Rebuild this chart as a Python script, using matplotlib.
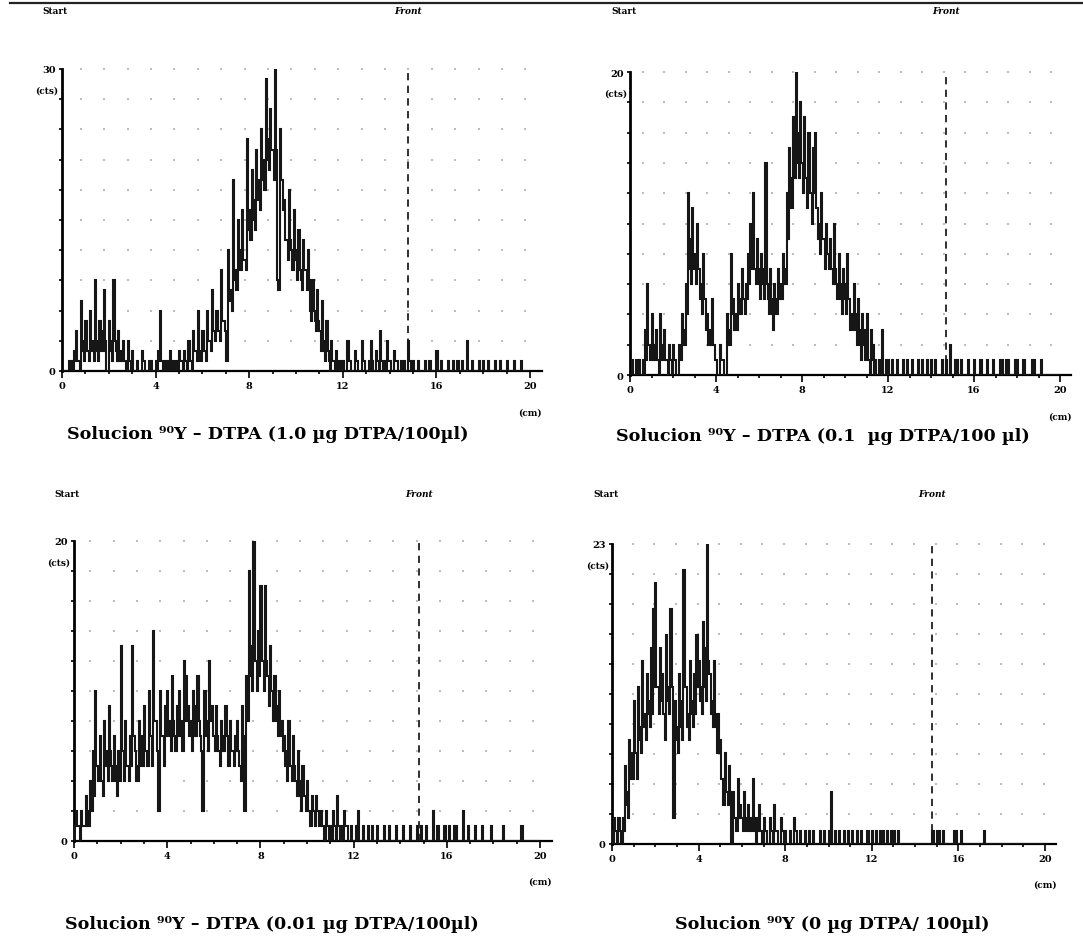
import numpy as np
import matplotlib
matplotlib.use("Agg")
import matplotlib.pyplot as plt

# ---------------- data ----------------
# Each 0.1 cm scanner channel is read as two half-channels: the upper
# value of the fast fluctuation (peaks_*) followed by the lower one (lows_*).
HALF_CHANNEL_CM = 0.05

x_major_ticks = [0, 4, 8, 12, 16, 20]
x_tick_labels = ["0", "4", "8", "12", "16", "20"]
front_cm = [14.8, 14.7, 14.8, 14.8]
y_max = [30, 20, 20, 23]
titles = [
    "Solucion \u2079\u2070Y \u2013 DTPA (1.0 \u00b5g DTPA/100\u00b5l)",
    "Solucion \u2079\u2070Y \u2013 DTPA (0.1  \u00b5g DTPA/100 \u00b5l)",
    "Solucion \u2079\u2070Y \u2013 DTPA (0.01 \u00b5g DTPA/100\u00b5l)",
    "Solucion \u2079\u2070Y (0 \u00b5g DTPA/ 100\u00b5l)",
]

peaks_1 = [
    0, 0, 0, 1, 1, 2, 4, 1, 7, 3,
    5, 2, 6, 3, 9, 2, 5, 4, 8, 0,
    5, 3, 9, 2, 4, 2, 3, 1, 3, 1,
    2, 0, 1, 0, 2, 1, 0, 1, 1, 0,
    1, 2, 6, 0, 1, 1, 2, 0, 1, 1,
    2, 1, 2, 1, 3, 1, 4, 2, 6, 1,
    4, 2, 6, 3, 8, 4, 6, 4, 10, 5,
    1, 12, 8, 19, 10, 15, 12, 16, 11, 23,
    16, 20, 17, 22, 19, 24, 21, 29, 23, 26,
    22, 30, 9, 24, 19, 17, 13, 18, 12, 16,
    11, 14, 9, 13, 10, 12, 6, 9, 5, 8,
    4, 7, 2, 5, 1, 3, 1, 2, 0, 1,
    1, 0, 3, 1, 0, 2, 1, 0, 3, 1,
    0, 1, 3, 0, 2, 1, 4, 0, 1, 3,
    1, 0, 2, 1, 0, 1, 1, 0, 3, 0,
    1, 0, 1, 0, 0, 1, 0, 1, 0, 0,
    2, 0, 1, 0, 0, 1, 0, 1, 0, 1,
    0, 1, 0, 3, 0, 1, 0, 0, 1, 0,
    1, 0, 1, 0, 0, 1, 0, 1, 0, 0,
    1, 0, 0, 1, 0, 0, 1, 0, 0, 0,
]
lows_1 = [
    0, 0, 0, 0, 0, 1, 1, 0, 2, 1,
    2, 1, 2, 1, 3, 1, 2, 2, 3, 0,
    2, 1, 3, 1, 1, 1, 1, 0, 1, 0,
    0, 0, 0, 0, 1, 0, 0, 0, 0, 0,
    0, 1, 1, 0, 0, 0, 1, 0, 0, 0,
    1, 0, 1, 0, 1, 0, 2, 1, 2, 1,
    2, 1, 3, 2, 4, 3, 4, 3, 5, 4,
    1, 7, 6, 9, 8, 10, 10, 11, 10, 14,
    13, 15, 14, 17, 16, 19, 18, 21, 20, 22,
    19, 22, 8, 19, 16, 13, 11, 13, 10, 12,
    9, 10, 8, 10, 8, 9, 5, 6, 4, 5,
    2, 3, 1, 2, 0, 1, 0, 1, 0, 0,
    0, 0, 1, 0, 0, 1, 0, 0, 1, 0,
    0, 0, 1, 0, 1, 0, 1, 0, 0, 1,
    0, 0, 1, 0, 0, 0, 0, 0, 1, 0,
    0, 0, 0, 0, 0, 0, 0, 0, 0, 0,
    0, 0, 0, 0, 0, 0, 0, 0, 0, 0,
    0, 0, 0, 0, 0, 0, 0, 0, 0, 0,
    0, 0, 0, 0, 0, 0, 0, 0, 0, 0,
    0, 0, 0, 0, 0, 0, 0, 0, 0, 0,
]

peaks_2 = [
    0, 1, 0, 1, 1, 0, 1, 3, 6, 2,
    4, 2, 3, 1, 4, 2, 3, 1, 2, 1,
    2, 1, 0, 2, 4, 3, 6, 12, 9, 11,
    8, 10, 7, 6, 8, 5, 4, 3, 5, 2,
    1, 0, 2, 1, 0, 4, 3, 8, 5, 4,
    6, 5, 7, 5, 6, 8, 10, 12, 7, 9,
    6, 8, 7, 14, 5, 7, 4, 6, 5, 7,
    6, 8, 7, 12, 15, 13, 17, 20, 16, 18,
    14, 17, 13, 16, 12, 15, 16, 11, 10, 12,
    9, 10, 8, 9, 7, 10, 6, 8, 5, 7,
    6, 8, 5, 4, 6, 3, 5, 2, 4, 3,
    4, 1, 3, 2, 1, 0, 1, 3, 0, 1,
    1, 0, 1, 0, 1, 0, 0, 1, 0, 1,
    0, 1, 0, 0, 1, 0, 1, 0, 1, 0,
    1, 0, 1, 0, 0, 1, 0, 1, 0, 2,
    0, 1, 1, 0, 1, 0, 0, 1, 0, 0,
    1, 0, 0, 1, 0, 0, 1, 0, 0, 1,
    0, 0, 1, 1, 0, 1, 1, 0, 0, 1,
    1, 0, 0, 1, 0, 0, 0, 1, 1, 0,
    0, 1, 0, 0, 0, 0, 0, 0, 0, 0,
]
lows_2 = [
    0, 0, 0, 0, 0, 0, 0, 1, 2, 1,
    1, 1, 1, 0, 1, 1, 1, 0, 1, 0,
    1, 0, 0, 1, 2, 2, 4, 7, 6, 7,
    6, 7, 5, 4, 5, 3, 2, 2, 2, 1,
    0, 0, 1, 0, 0, 2, 2, 4, 3, 3,
    4, 4, 5, 4, 5, 6, 7, 7, 6, 7,
    5, 6, 5, 6, 4, 5, 3, 4, 4, 5,
    5, 6, 6, 9, 11, 11, 13, 14, 13, 14,
    12, 13, 11, 12, 10, 12, 11, 9, 8, 9,
    7, 8, 7, 7, 6, 7, 5, 6, 4, 5,
    4, 5, 3, 3, 4, 2, 3, 1, 2, 1,
    1, 0, 1, 0, 0, 0, 0, 0, 0, 0,
    0, 0, 0, 0, 0, 0, 0, 0, 0, 0,
    0, 0, 0, 0, 0, 0, 0, 0, 0, 0,
    0, 0, 0, 0, 0, 0, 0, 0, 0, 0,
    0, 0, 0, 0, 0, 0, 0, 0, 0, 0,
    0, 0, 0, 0, 0, 0, 0, 0, 0, 0,
    0, 0, 0, 0, 0, 0, 0, 0, 0, 0,
    0, 0, 0, 0, 0, 0, 0, 0, 0, 0,
    0, 0, 0, 0, 0, 0, 0, 0, 0, 0,
]

peaks_3 = [
    1, 2, 1, 2, 1, 3, 2, 4, 6, 10,
    5, 7, 4, 8, 6, 9, 5, 7, 4, 6,
    13, 6, 8, 5, 7, 13, 6, 5, 8, 7,
    9, 6, 10, 7, 14, 8, 2, 10, 7, 9,
    10, 8, 11, 7, 9, 10, 8, 12, 11, 9,
    8, 10, 9, 11, 7, 2, 10, 8, 12, 9,
    7, 9, 6, 8, 7, 9, 5, 8, 6, 7,
    8, 5, 9, 2, 11, 18, 13, 20, 12, 14,
    17, 12, 17, 11, 13, 10, 11, 9, 10, 8,
    7, 6, 8, 5, 7, 4, 6, 3, 5, 3,
    4, 2, 3, 2, 3, 1, 2, 1, 2, 1,
    1, 2, 1, 3, 0, 1, 2, 1, 0, 1,
    0, 1, 2, 0, 1, 0, 1, 0, 1, 0,
    1, 0, 0, 1, 0, 1, 0, 0, 1, 0,
    0, 1, 0, 0, 1, 0, 0, 1, 0, 1,
    0, 1, 0, 0, 2, 0, 1, 0, 0, 1,
    0, 1, 0, 1, 1, 0, 0, 2, 0, 1,
    0, 0, 1, 0, 0, 1, 0, 0, 0, 1,
    0, 0, 0, 0, 1, 0, 0, 0, 0, 0,
    0, 0, 1, 0, 0, 0, 0, 0, 0, 0,
]
lows_3 = [
    1, 1, 0, 1, 1, 1, 1, 2, 3, 5,
    4, 4, 3, 5, 4, 6, 4, 5, 3, 4,
    6, 4, 5, 4, 5, 7, 4, 4, 5, 5,
    6, 5, 7, 5, 8, 6, 2, 7, 5, 7,
    7, 6, 8, 6, 7, 7, 6, 8, 8, 7,
    6, 7, 7, 8, 6, 2, 7, 6, 8, 7,
    6, 7, 5, 6, 6, 7, 5, 6, 5, 6,
    6, 4, 7, 2, 8, 11, 10, 12, 10, 11,
    12, 10, 12, 9, 10, 8, 8, 7, 7, 6,
    5, 4, 5, 4, 5, 3, 4, 2, 3, 2,
    2, 1, 2, 1, 2, 1, 1, 0, 1, 0,
    0, 1, 0, 1, 0, 0, 1, 0, 0, 0,
    0, 0, 0, 0, 0, 0, 0, 0, 0, 0,
    0, 0, 0, 0, 0, 0, 0, 0, 0, 0,
    0, 0, 0, 0, 0, 0, 0, 0, 0, 0,
    0, 0, 0, 0, 0, 0, 0, 0, 0, 0,
    0, 0, 0, 0, 0, 0, 0, 0, 0, 0,
    0, 0, 0, 0, 0, 0, 0, 0, 0, 0,
    0, 0, 0, 0, 0, 0, 0, 0, 0, 0,
    0, 0, 0, 0, 0, 0, 0, 0, 0, 0,
]

peaks_4 = [
    1, 2, 1, 2, 0, 2, 6, 4, 8, 7,
    11, 7, 12, 9, 14, 10, 13, 11, 15, 18,
    20, 12, 15, 13, 10, 16, 12, 18, 2, 11,
    9, 13, 11, 21, 12, 10, 14, 11, 13, 16,
    14, 12, 17, 15, 23, 13, 11, 14, 9, 10,
    8, 5, 7, 4, 6, 0, 4, 2, 5, 3,
    2, 4, 1, 3, 2, 5, 1, 2, 3, 1,
    2, 1, 0, 2, 1, 3, 1, 0, 2, 1,
    1, 0, 1, 0, 2, 1, 0, 1, 0, 1,
    0, 1, 0, 1, 0, 0, 1, 0, 1, 0,
    1, 4, 0, 1, 0, 1, 0, 1, 0, 1,
    0, 1, 0, 1, 0, 1, 0, 0, 1, 0,
    1, 0, 1, 0, 1, 1, 0, 1, 0, 1,
    1, 0, 1, 0, 0, 0, 0, 0, 0, 0,
    0, 0, 0, 0, 0, 0, 0, 0, 1, 0,
    1, 1, 0, 1, 0, 0, 0, 0, 1, 1,
    0, 1, 0, 0, 0, 0, 0, 0, 0, 0,
    0, 0, 1, 0, 0, 0, 0, 0, 0, 0,
    0, 0, 0, 0, 0, 0, 0, 0, 0, 0,
    0, 0, 0, 0, 0, 0, 0, 0, 0, 0,
]
lows_4 = [
    0, 1, 0, 1, 0, 1, 3, 2, 5, 5,
    7, 5, 8, 7, 9, 8, 10, 9, 10, 12,
    12, 10, 11, 10, 8, 11, 10, 12, 2, 8,
    7, 9, 8, 12, 9, 8, 10, 9, 10, 12,
    11, 10, 12, 11, 14, 10, 9, 10, 7, 7,
    5, 3, 4, 3, 4, 0, 2, 1, 2, 2,
    1, 2, 1, 1, 1, 2, 0, 1, 1, 0,
    1, 0, 0, 1, 0, 1, 0, 0, 1, 0,
    0, 0, 0, 0, 1, 0, 0, 0, 0, 0,
    0, 0, 0, 0, 0, 0, 0, 0, 0, 0,
    0, 0, 0, 0, 0, 0, 0, 0, 0, 0,
    0, 0, 0, 0, 0, 0, 0, 0, 0, 0,
    0, 0, 0, 0, 0, 0, 0, 0, 0, 0,
    0, 0, 0, 0, 0, 0, 0, 0, 0, 0,
    0, 0, 0, 0, 0, 0, 0, 0, 0, 0,
    0, 0, 0, 0, 0, 0, 0, 0, 0, 0,
    0, 0, 0, 0, 0, 0, 0, 0, 0, 0,
    0, 0, 0, 0, 0, 0, 0, 0, 0, 0,
    0, 0, 0, 0, 0, 0, 0, 0, 0, 0,
    0, 0, 0, 0, 0, 0, 0, 0, 0, 0,
]

all_peaks = [peaks_1, peaks_2, peaks_3, peaks_4]
all_lows = [lows_1, lows_2, lows_3, lows_4]

# ---------------- layout (pixels) ----------------
W, H = 1083, 945
# (x of 0 cm, x of 20 cm, y of 0 counts, y of max counts)
panel_px = [(62, 530, 372, 70), (630, 1060, 376, 73),
            (74, 540, 842, 542), (612, 1045, 845, 545)]
dot_offset = [0.8, 0.6, 0.7, 0.95]
title_px = [(268, 435), (823, 437), (272, 925), (832, 925)]
label_row_y = [12, 12, 495, 495]
X_RIGHT = 20.5

SERIF = ["DejaVu Serif", "DejaVu Sans"]

fig = plt.figure(figsize=(W / 100, H / 100), dpi=100)
fig.patch.set_facecolor("white")

# top rule
fig.add_artist(plt.Line2D([10 / W, 1.0], [1 - 4 / H, 1 - 4 / H],
                          color="#222222", lw=1.6, transform=fig.transFigure))

for i in range(4):
    x0, x20, y0, ytop = panel_px[i]
    pxcm = (x20 - x0) / 20.0
    left = x0 / W
    width = X_RIGHT * pxcm / W
    bottom = 1 - y0 / H
    height = (y0 - ytop) / H
    ax = fig.add_axes([left, bottom, width, height])
    ymax = y_max[i]
    trace = np.column_stack([all_peaks[i], all_lows[i]]).ravel().astype(float)
    edges = np.arange(len(trace) + 1) * HALF_CHANNEL_CM

    ax.set_xlim(0, X_RIGHT)
    ax.set_ylim(0, ymax)

    # dotted background grid
    gx, gy = np.meshgrid(dot_offset[i] + np.arange(0, 20),
                         ymax * np.arange(1, 11) / 10.0)
    ax.scatter(gx.ravel(), gy.ravel(), s=4, marker="s", color="#bdbdbd",
               linewidths=0, zorder=1, clip_on=False)

    # scanner trace
    ax.stairs(trace, edges, color="#161616", lw=1.5, zorder=3, baseline=0)

    # solvent front
    ax.axvline(front_cm[i], color="#202020", lw=1.3, ls=(0, (4, 3)), zorder=2)

    for s in ["top", "right"]:
        ax.spines[s].set_visible(False)
    ax.spines["left"].set_linewidth(2.0)
    ax.spines["bottom"].set_linewidth(1.6)
    ax.patch.set_alpha(0)

    ax.set_xticks(x_major_ticks)
    ax.set_xticklabels(x_tick_labels)
    ax.set_xticks(np.arange(0, 21), minor=True)
    ax.tick_params(axis="x", which="major", direction="out", length=5,
                   width=1.2, pad=2, labelsize=7)
    ax.tick_params(axis="x", which="minor", direction="out", length=2.5,
                   width=1.2)
    for lab in ax.get_xticklabels():
        lab.set_fontfamily(SERIF)
        lab.set_fontweight("bold")

    yt = ymax * np.arange(0, 11) / 10.0
    ax.set_yticks(yt)
    ax.set_yticklabels(["0"] + [""] * 9 + [str(ymax)])
    ax.tick_params(axis="y", direction="out", length=2.5, width=1.2,
                   pad=2, labelsize=7)
    for lab in ax.get_yticklabels():
        lab.set_fontfamily(SERIF)
        lab.set_fontweight("bold")

    ax.text(-0.15, ymax * 0.93, "(cts)", ha="right", va="center",
            fontsize=6.5, fontweight="bold", family=SERIF)
    ax.text(20.0, -0.12, "(cm)", transform=ax.get_xaxis_transform(),
            ha="center", va="top", fontsize=6.5, fontweight="bold",
            family=SERIF)

    # Start / Front labels above the panel
    ty = 1 - label_row_y[i] / H
    fig.text((x0 - 0.3 * pxcm) / W, ty, "Start", ha="center", va="center",
             fontsize=6.5, fontweight="bold", family=SERIF)
    fig.text((x0 + front_cm[i] * pxcm) / W, ty, "Front", ha="center",
             va="center", fontsize=6.5, fontweight="bold", style="italic",
             family=SERIF)

    tx, tyt = title_px[i]
    fig.text(tx / W, 1 - tyt / H, titles[i], ha="center", va="center",
             fontsize=12.6, fontweight="bold", family=SERIF)

fig.savefig("out.png", dpi=100, facecolor="white")
